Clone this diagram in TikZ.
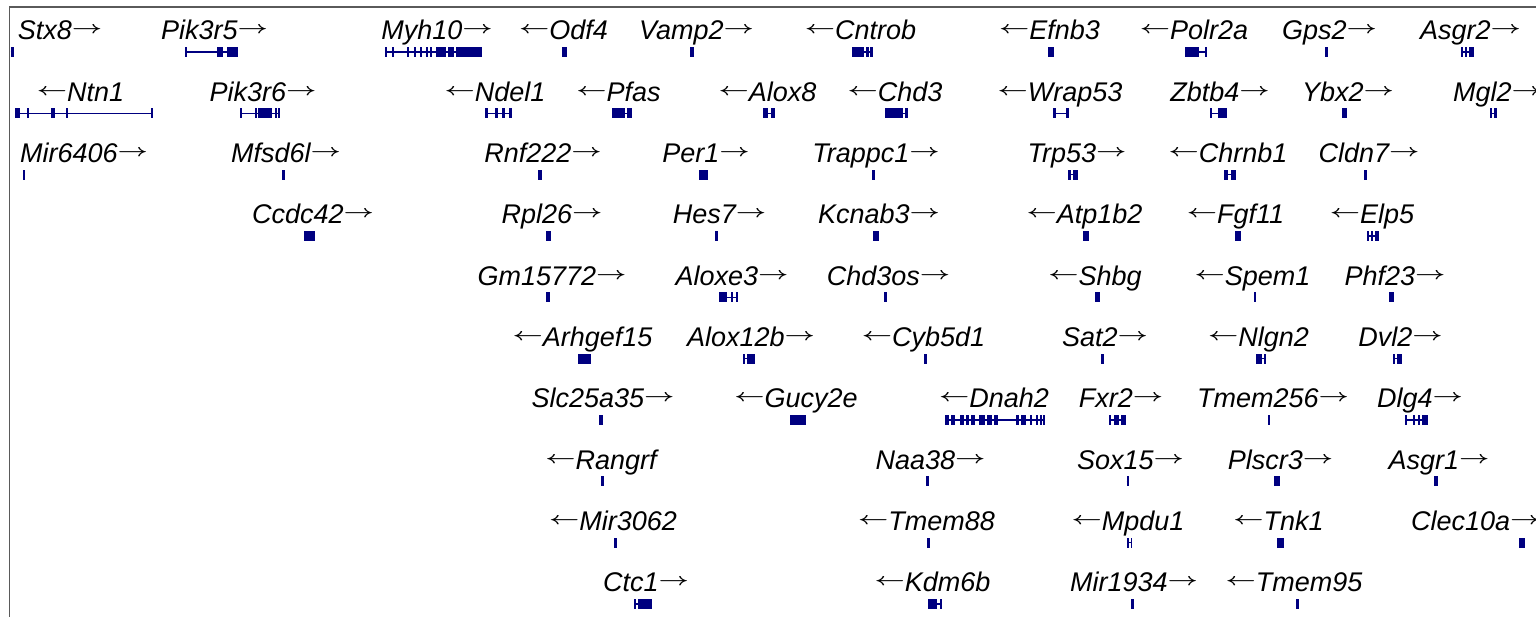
\documentclass[tikz,border=0pt]{standalone}
\usepackage{fontspec}
\usepackage{graphicx}
\setmainfont{Liberation Sans}
\definecolor{navy}{RGB}{0,0,128}
\definecolor{framegray}{RGB}{90,90,90}
\tikzset{
  lab/.style={anchor=base, inner sep=0pt, outer sep=0pt, font=\fontsize{27}{30}\selectfont\itshape},
  labw/.style={lab, anchor=base west},
  intron/.style={draw=navy, line width=1.3pt},
  exon/.style={fill=navy},
  frame/.style={draw=framegray, line width=1.5pt}
}
\newcommand\gR{\raisebox{6pt}{\scalebox{1.06}[0.7]{\boldmath$\rightarrow$}}}
\newcommand\gL{\raisebox{6pt}{\scalebox{1.06}[0.7]{\boldmath$\leftarrow$}}}
\newcommand\glab[5][lab]{\node[#1] (#2) at (#4, {40+(#3-1)*61.33}) {#5};}
\newcommand\gene[4]{%
  \pgfmathsetmacro\gy{52+(#1-1)*61.33}
  \draw[intron] (#2,\gy) -- (#3,\gy);
  \foreach \a/\b in {#4} {\fill[exon] (\a,\gy-5) rectangle (\b,\gy+5);}
}
\begin{document}
\begin{tikzpicture}[x=1pt,y=-1pt]
\useasboundingbox (0,0) rectangle (1536,617);
\clip (0,0) rectangle (1536,617);
\draw[frame] (9.3,617) -- (9.3,6.8) -- (1536,6.8);
% Row 1
\glab{Stx8}{1}{60}{Stx8\gR}            \gene{1}{10.5}{14}{10.5/14}
\glab{Pik3r5}{1}{214.5}{Pik3r5\gR}     \gene{1}{185}{238}{185/187,217/223,227/238}
\glab{Myh10}{1}{437}{Myh10\gR}         \gene{1}{385}{482}{385/387,392/394,407/409,414/416,420/422,426/428,430/432,436/446,448/454,456/482}
\glab{Odf4}{1}{563.5}{\gL Odf4}        \gene{1}{562}{567}{562/567}
\glab{Vamp2}{1}{696.5}{Vamp2\gR}       \gene{1}{690}{694}{690/694}
\glab{Cntrob}{1}{860.5}{\gL Cntrob}    \gene{1}{852}{873}{852/864,866/869,870/873}
\glab{Efnb3}{1}{1049.5}{\gL Efnb3}     \gene{1}{1048}{1054}{1048/1054}
\glab{Polr2a}{1}{1194}{\gL Polr2a}     \gene{1}{1185}{1207}{1185/1199,1205/1207}
\glab{Gps2}{1}{1329.5}{Gps2\gR}        \gene{1}{1325}{1328}{1325/1328}
\glab{Asgr2}{1}{1470.5}{Asgr2\gR}      \gene{1}{1461}{1474}{1461/1463,1465/1467,1469/1474}
% Row 2
\glab{Ntn1}{2}{80.5}{\gL Ntn1}         \gene{2}{15}{153}{15/20,27/29,51/55,66/68,151/153}
\glab{Pik3r6}{2}{263}{Pik3r6\gR}       \gene{2}{240}{280}{240/242,255/257,258/272,275/277,278/280}
\glab{Ndel1}{2}{495}{\gL Ndel1}        \gene{2}{485}{512}{485/488,495/498,502/505,509/512}
\glab{Pfas}{2}{618.5}{\gL Pfas}        \gene{2}{612}{632}{612/625,627/632}
\glab{Alox8}{2}{767.5}{\gL Alox8}      \gene{2}{763}{775}{763/768,771/775}
\glab{Chd3}{2}{895}{\gL Chd3}          \gene{2}{885}{908}{885/903,905/908}
\glab{Wrap53}{2}{1060}{\gL Wrap53}     \gene{2}{1053}{1069}{1053/1056,1066/1069}
\glab{Zbtb4}{2}{1220}{Zbtb4\gR}        \gene{2}{1210}{1227}{1210/1212,1218/1227}
\glab{Ybx2}{2}{1348}{Ybx2\gR}          \gene{2}{1342}{1347}{1342/1347}
\glab[labw]{Mgl2}{2}{1453}{Mgl2\gR}    \gene{2}{1490}{1497}{1490/1492,1494/1497}
% Row 3
\glab{Mir6406}{3}{84}{Mir6406\gR}      \gene{3}{23}{25}{23/25}
\glab{Mfsd6l}{3}{286}{Mfsd6l\gR}       \gene{3}{282}{284.5}{282/284.5}
\glab{Rnf222}{3}{543}{Rnf222\gR}       \gene{3}{538}{542}{538/542}
\glab{Per1}{3}{706}{Per1\gR}           \gene{3}{699}{708}{699/708}
\glab{Trappc1}{3}{876}{Trappc1\gR}     \gene{3}{872}{874.5}{872/874.5}
\glab{Trp53}{3}{1077}{Trp53\gR}        \gene{3}{1068}{1078}{1068/1071,1073/1078}
\glab{Chrnb1}{3}{1228}{\gL Chrnb1}     \gene{3}{1224}{1236}{1224/1228,1231/1236}
\glab{Cldn7}{3}{1369}{Cldn7\gR}        \gene{3}{1364}{1367}{1364/1367}
% Row 4
\glab{Ccdc42}{4}{313}{Ccdc42\gR}       \gene{4}{304}{315}{304/315}
\glab{Rpl26}{4}{552}{Rpl26\gR}         \gene{4}{546}{551}{546/551}
\glab{Hes7}{4}{719.5}{Hes7\gR}         \gene{4}{715}{718}{715/718}
\glab{Kcnab3}{4}{879}{Kcnab3\gR}       \gene{4}{873}{879}{873/879}
\glab{Atp1b2}{4}{1084.5}{\gL Atp1b2}   \gene{4}{1083}{1089}{1083/1089}
\glab{Fgf11}{4}{1235.5}{\gL Fgf11}     \gene{4}{1235}{1241}{1235/1241}
\glab{Elp5}{4}{1372}{\gL Elp5}         \gene{4}{1367}{1379}{1367/1369,1371/1373,1375/1379}
% Row 5
\glab{Gm15772}{5}{552}{Gm15772\gR}     \gene{5}{546}{550}{546/550}
\glab{Aloxe3}{5}{732}{Aloxe3\gR}       \gene{5}{719}{738}{719/727,731/733,736/738}
\glab{Chd3os}{5}{888.5}{Chd3os\gR}     \gene{5}{884}{887}{884/887}
\glab{Shbg}{5}{1095}{\gL Shbg}         \gene{5}{1095}{1100}{1095/1100}
\glab{Spem1}{5}{1252.5}{\gL Spem1}     \gene{5}{1254}{1256}{1254/1256}
\glab{Phf23}{5}{1395}{Phf23\gR}        \gene{5}{1389}{1394}{1389/1394}
% Row 6
\glab{Arhgef15}{6}{582.5}{\gL Arhgef15} \gene{6}{578}{591}{578/591}
\glab{Alox12b}{6}{751}{Alox12b\gR}     \gene{6}{743}{755}{743/745,747/755}
\glab{Cyb5d1}{6}{923.5}{\gL Cyb5d1}    \gene{6}{924}{927}{924/927}
\glab{Sat2}{6}{1105}{Sat2\gR}          \gene{6}{1101}{1103.5}{1101/1103.5}
\glab{Nlgn2}{6}{1258.5}{\gL Nlgn2}     \gene{6}{1256}{1266}{1256/1262,1264/1266}
\glab{Dvl2}{6}{1400.5}{Dvl2\gR}        \gene{6}{1393}{1402}{1393/1395,1397/1402}
% Row 7
\glab{Slc25a35}{7}{603}{Slc25a35\gR}   \gene{7}{599}{602.5}{599/602.5}
\glab{Gucy2e}{7}{796}{\gL Gucy2e}      \gene{7}{790}{806}{790/806}
\glab{Dnah2}{7}{994}{\gL Dnah2}        \gene{7}{945}{1044}{945/949,951/955,960/964,966/969,971/975,979/985,987/992,994/998,1016/1019,1021/1026,1030/1032,1036/1038,1040/1041.5,1043/1044.5}
\glab{Fxr2}{7}{1121}{Fxr2\gR}          \gene{7}{1109}{1126}{1109/1111,1114/1119,1121/1126}
\glab{Tmem256}{7}{1273}{Tmem256\gR}    \gene{7}{1268}{1270}{1268/1270}
\glab{Dlg4}{7}{1420}{Dlg4\gR}          \gene{7}{1405}{1428}{1405/1407,1413/1415,1418/1420,1422/1428}
% Row 8
\glab{Rangrf}{8}{601}{\gL Rangrf}      \gene{8}{601}{604}{601/604}
\glab{Naa38}{8}{930.5}{Naa38\gR}       \gene{8}{926}{929}{926/929}
\glab{Sox15}{8}{1130.5}{Sox15\gR}      \gene{8}{1126.5}{1129}{1126.5/1129}
\glab{Plscr3}{8}{1280.5}{Plscr3\gR}    \gene{8}{1274}{1280}{1274/1280}
\glab{Asgr1}{8}{1439}{Asgr1\gR}        \gene{8}{1434}{1438}{1434/1438}
% Row 9
\glab{Mir3062}{9}{613}{\gL Mir3062}    \gene{9}{614}{616.5}{614/616.5}
\glab{Tmem88}{9}{926.5}{\gL Tmem88}    \gene{9}{927}{930}{927/930}
\glab{Mpdu1}{9}{1128}{\gL Mpdu1}       \gene{9}{1127}{1132}{1127/1129,1130.5/1132}
\glab{Tnk1}{9}{1278.5}{\gL Tnk1}       \gene{9}{1277}{1284}{1277/1284}
\glab[labw]{Clec10a}{9}{1411}{Clec10a\gR} \gene{9}{1519}{1525}{1519/1525}
% Row 10
\glab{Ctc1}{10}{646}{Ctc1\gR}          \gene{10}{634}{652}{634/636,638/652}
\glab{Kdm6b}{10}{932.5}{\gL Kdm6b}     \gene{10}{928}{942}{928/937,940/942}
\glab{Mir1934}{10}{1134}{Mir1934\gR}   \gene{10}{1131}{1133.5}{1131/1133.5}
\glab{Tmem95}{10}{1294}{\gL Tmem95}    \gene{10}{1296}{1299}{1296/1299}
\end{tikzpicture}
\end{document}
